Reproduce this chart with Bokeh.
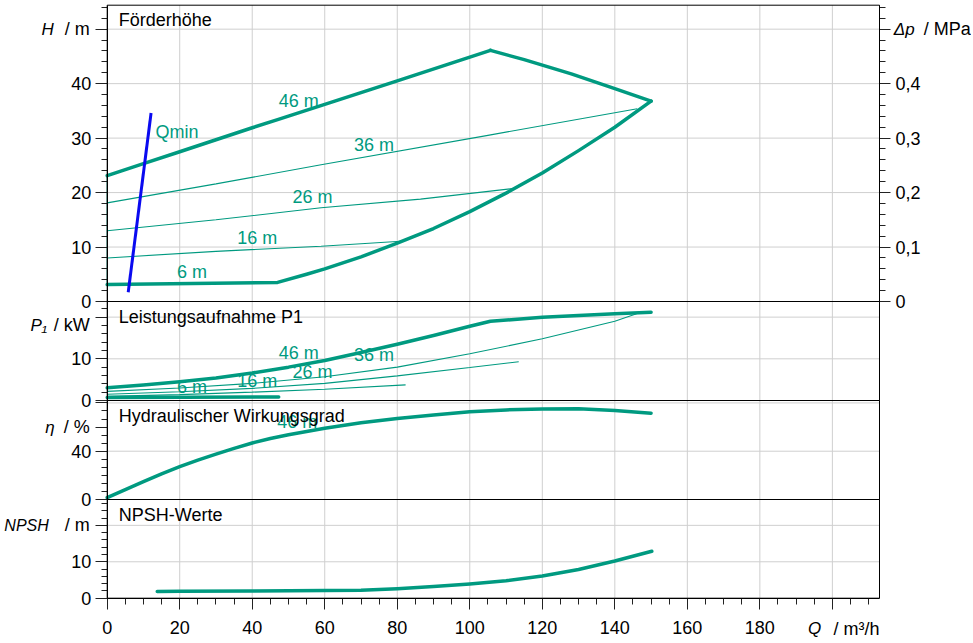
from bokeh.plotting import figure
from bokeh.models import Range1d, LinearAxis, FixedTicker, Label, BoxAnnotation, CustomJSTickFormatter
from bokeh.embed import file_html
from bokeh.resources import INLINE
from bokeh.core.properties import value

# ---------------- data ----------------
# Förderhöhe H / m
q_max_up = [0, 10, 20, 30, 40, 47, 60, 80, 105.7]
h_max_up = [23.1, 25.3, 27.5, 29.7, 31.9, 33.4, 36.2, 40.5, 46.1]
q_max_down = [105.7, 115, 128, 140, 150]
h_max_down = [46.1, 44.4, 41.8, 39.1, 36.8]
q_min_env = [0, 47, 55, 60, 70, 80, 90, 100, 110, 120, 130, 140, 150]
h_min_env = [3.1, 3.5, 5.0, 6.0, 8.2, 10.7, 13.4, 16.5, 19.9, 23.6, 27.7, 32.0, 36.8]
q_edge = [0, 0]
h_edge = [3.1, 23.1]
q_36 = [0, 30, 59, 105, 146.2]
h_36 = [18.1, 21.6, 25.1, 30.5, 35.4]
q_26 = [0, 30, 59, 86.4, 112.6]
h_26 = [13.0, 15.0, 17.2, 18.8, 20.8]
q_16 = [0, 30, 59, 81]
h_16 = [8.0, 9.2, 10.15, 11.06]
q_qmin = [5.8, 12.1]
h_qmin = [1.7, 34.6]

curve_labels = ["46 m", "36 m", "26 m", "16 m", "6 m"]
lab_q = [52.8, 73.6, 56.6, 41.4, 23.4]
lab_h = [36.9, 28.8, 19.1, 11.7, 5.4]
lab_p = [11.5, 10.9, 6.9, 4.6, 3.2]
qmin_text = ["Qmin"]
qmin_q = [13.3]
qmin_h = [31.2]

# Leistungsaufnahme P1 / kW
q_p46 = [0, 10, 20, 30, 40, 50, 60, 70, 80, 90, 100, 105.7, 120, 140, 150]
p_p46 = [3.05, 3.7, 4.5, 5.4, 6.6, 8.0, 9.6, 11.5, 13.5, 15.6, 17.8, 19.0, 20.0, 20.8, 21.2]
q_p36 = [0, 20, 40, 60, 80, 100, 120, 140, 146]
p_p36 = [2.2, 3.0, 4.1, 5.7, 8.0, 11.2, 14.8, 19.0, 20.8]
q_p26 = [0, 20, 40, 60, 80, 100, 113.5]
p_p26 = [1.5, 2.1, 2.9, 4.1, 5.9, 7.9, 9.3]
q_p16 = [0, 20, 40, 60, 82.3]
p_p16 = [1.0, 1.4, 2.0, 2.7, 3.75]
q_p6 = [0, 47.3]
p_p6 = [0.7, 0.85]

# Hydraulischer Wirkungsgrad eta / %
q_eta = [0, 5, 10, 15, 20, 25, 30, 35, 40, 45, 50, 60, 70, 80, 90, 100, 110, 120, 130, 140, 150]
eta = [1.5, 8.2, 14.8, 21.2, 27.2, 32.6, 37.6, 42.4, 46.8, 50.5, 53.6, 59.0, 63.5, 67.0, 70.0,
       72.6, 74.2, 75.0, 75.1, 73.8, 71.5]
eta_lab_text = ["46 m"]
eta_lab_q = [52.4]
eta_lab_v = [64.5]

# NPSH / m
q_npsh = [13.8, 20, 40, 60, 70, 80, 90, 100, 110, 120, 130, 140, 150.2]
npsh = [1.85, 1.9, 2.0, 2.1, 2.2, 2.6, 3.2, 3.9, 4.8, 6.1, 7.9, 10.2, 12.9]

# ticks
x_ticks = [0, 20, 40, 60, 80, 100, 120, 140, 160, 180, 200]
x_tick_labels = ["0", "20", "40", "60", "80", "100", "120", "140", "160", "180", ""]
h_ticks = [0, 10, 20, 30, 40, 50]
h_tick_labels = ["0", "10", "20", "30", "40", ""]
p_ticks = [0, 10, 20]
p_tick_labels = ["0", "10", ""]
eta_ticks = [0, 40, 60, 80]
eta_tick_labels = ["0", "40", "", ""]
npsh_ticks = [0, 10, 20]
npsh_tick_labels = ["0", "10", ""]
dp_ticks = [0, 0.1, 0.2, 0.3, 0.4, 0.5]

# ---------------- layout / style ----------------
TEAL = "#009a80"
BLUE = "#0a0af0"
GRID = "#cfcfcf"
FONT = "Liberation Sans"
FS = "18px"

CW, CH = 971, 640            # canvas
FRAME_LEFT = 106.7           # px of Q = 0
FRAME_TOP = 4.7
PLOT_BOTTOM = 597.7          # px of lowest panel bottom
X_END = 213
X_PX = 772.3 / X_END
FH = PLOT_BOTTOM - FRAME_TOP

# panel: (bottom px above plot bottom, height px, top value)
PANELS = {"npsh": (0.0, 98.7, 27.1), "eta": (98.7, 99.0, 82.0),
          "P": (197.7, 99.0, 23.75), "H": (296.7, FH - 296.7, 54.4)}
Y_LO, Y_HI = -(CH - PLOT_BOTTOM), PLOT_BOTTOM


def px(name, v):
    b, h, top = PANELS[name]
    return b + v * h / top


def prange(name, scale=1.0):
    b, h, top = PANELS[name]
    return Range1d((Y_LO - b) * top / h * scale, (Y_HI - b) * top / h * scale)


p = figure(width=CW, height=CH,
           x_range=Range1d(-FRAME_LEFT / X_PX, (CW - FRAME_LEFT) / X_PX),
           y_range=Range1d(Y_LO, Y_HI),
           x_axis_location=None, y_axis_location=None,
           output_backend="svg", toolbar_location=None,
           min_border_left=0, min_border_right=0, min_border_top=0, min_border_bottom=0)
p.center = []
p.extra_y_ranges = {"H": prange("H"), "P": prange("P"), "eta": prange("eta"),
                    "npsh": prange("npsh"), "dp": prange("H", 0.01)}
p.outline_line_color = None
p.background_fill_color = "white"
p.border_fill_color = "white"

# grid lines (at the tick positions, bounded to the plot area)
vx = x_ticks[1:]
p.segment(x0=vx, y0=[0] * len(vx), x1=vx, y1=[FH] * len(vx), line_color=GRID, line_width=1)
grid_y = ([px("H", v) for v in [10, 20, 30, 40, 50]] + [px("P", v) for v in [10, 20]] +
          [px("eta", v) for v in [40, 80]] + [px("npsh", v) for v in [10, 20]])
p.segment(x0=[0] * len(grid_y), y0=grid_y, x1=[X_END] * len(grid_y), y1=grid_y,
          line_color=GRID, line_width=1)

# panel frames
for name in ["H", "P", "eta", "npsh"]:
    b, h, top = PANELS[name]
    p.add_layout(BoxAnnotation(left=0, right=X_END, bottom=b, top=b + h, fill_alpha=0,
                               line_color="black", line_width=1, line_alpha=1))

# left axis
left_major = ([px("H", v) for v in h_ticks] + [px("P", v) for v in p_ticks] +
              [px("eta", v) for v in eta_ticks] + [px("npsh", v) for v in npsh_ticks])
left_labels = h_tick_labels + p_tick_labels + eta_tick_labels + npsh_tick_labels
left_minor = ([px("H", v) for v in range(0, 55, 2)] + [px("P", v) for v in range(0, 23, 2)] +
              [px("eta", k * 20 / 3) for k in range(0, 13)] + [px("npsh", v) for v in range(0, 27, 2)])
ya = LinearAxis(fixed_location=0, bounds=(0, FH),
                ticker=FixedTicker(ticks=left_major, minor_ticks=left_minor),
                formatter=CustomJSTickFormatter(args=dict(t=left_major, l=left_labels), code="""
let best = 0, bd = Infinity;
for (let i = 0; i < t.length; i++) { const d = Math.abs(t[i] - tick); if (d < bd) { bd = d; best = i; } }
return l[best];
"""))
p.add_layout(ya, "left")

# bottom axis
xa = LinearAxis(fixed_location=0, bounds=(0, X_END),
                ticker=FixedTicker(ticks=x_ticks, minor_ticks=list(range(0, 211, 5))))
xa.major_label_overrides = {t: s for t, s in zip(x_ticks, x_tick_labels)}
p.add_layout(xa, "below")

# right axis (pressure)
ra = LinearAxis(y_range_name="dp", fixed_location=X_END, bounds=(0, 0.544),
                ticker=FixedTicker(ticks=dp_ticks, minor_ticks=[i * 0.02 for i in range(28)]),
                formatter=CustomJSTickFormatter(code="""
if (Math.abs(tick - 0.5) < 1e-6) return "";
if (Math.abs(tick) < 1e-9) return "0";
return tick.toFixed(1).replace(".", ",");
"""))
p.add_layout(ra, "right")

for ax in [ya, xa, ra]:
    ax.axis_line_color = "black"
    ax.major_tick_line_color = "#222222"
    ax.minor_tick_line_color = "#222222"
    ax.major_tick_in = 0
    ax.minor_tick_in = 0
    ax.major_tick_out = 12
    ax.minor_tick_out = 6
    ax.major_label_text_font = FONT
    ax.major_label_text_font_size = FS
    ax.major_label_text_color = "black"
ya.major_label_standoff = 4
xa.major_label_standoff = 12
xa.major_tick_out = 11
ra.major_tick_out = 11
ra.major_label_standoff = 5

# ---------------- curves ----------------
thick = dict(line_color=TEAL, line_width=3.5, line_join="round", line_cap="round")
thin = dict(line_color=TEAL, line_width=1.1)
p.line(q_max_up, h_max_up, y_range_name="H", **thick)
p.line(q_max_down, h_max_down, y_range_name="H", **thick)
p.line(q_min_env, h_min_env, y_range_name="H", **thick)
p.line(q_edge, h_edge, y_range_name="H", **thin)
p.line(q_36, h_36, y_range_name="H", **thin)
p.line(q_26, h_26, y_range_name="H", **thin)
p.line(q_16, h_16, y_range_name="H", **thin)
p.line(q_qmin, h_qmin, y_range_name="H", line_color=BLUE, line_width=3)

p.line(q_p46, p_p46, y_range_name="P", **thick)
p.line(q_p36, p_p36, y_range_name="P", **thin)
p.line(q_p26, p_p26, y_range_name="P", **thin)
p.line(q_p16, p_p16, y_range_name="P", **thin)
p.line(q_p6, p_p6, y_range_name="P", **thick)

p.line(q_eta, eta, y_range_name="eta", **thick)
p.line(q_npsh, npsh, y_range_name="npsh", **thick)

txt = dict(text_color=TEAL, text_font=value(FONT), text_font_size=FS,
           text_align="center", text_baseline="middle")
p.text(x=lab_q, y=lab_h, text=curve_labels, y_range_name="H", **txt)
p.text(x=lab_q, y=lab_p, text=curve_labels, y_range_name="P", **txt)
p.text(x=eta_lab_q, y=eta_lab_v, text=eta_lab_text, y_range_name="eta", **txt)
p.text(x=qmin_q, y=qmin_h, text=qmin_text, y_range_name="H",
       text_color=TEAL, text_font=value(FONT), text_font_size=FS, text_align="left", text_baseline="middle")


# ---------------- panel titles & axis titles ----------------
def lab(text, x, y, xoff, align="left", italic=False, size=FS, color="black"):
    p.add_layout(Label(x=x, y=y, x_offset=xoff, text=text, text_align=align, text_baseline="middle",
                       text_font=FONT, text_font_size=size, text_color=color,
                       text_font_style="italic" if italic else "normal"))


lab("Förderhöhe", 0, FH - 14.5, 11.6)
lab("Leistungsaufnahme P1", 0, px("P", 23.75) - 15, 11.6)
lab("Hydraulischer Wirkungsgrad", 0, px("eta", 82.0) - 15, 11.6)
lab("NPSH-Werte", 0, px("npsh", 27.1) - 15, 11.6)

lab("H", 0, px("H", 50), -53.4, "right", True, "17px")
lab("/ m", 0, px("H", 50), -17.4, "right")
lab("P\u2081", 0, px("P", 18), -60, "right", True, "17px")
lab("/ kW", 0, px("P", 18), -17.4, "right")
lab("\u03b7", 0, px("eta", 60), -52.4, "right", True, "17px")
lab("/ %", 0, px("eta", 60), -17.4, "right")
lab("NPSH", 0, px("npsh", 20), -58.4, "right", True, "16px")
lab("/ m", 0, px("npsh", 20), -17.4, "right")

lab("\u0394p", X_END, px("H", 50), 14.3, "left", True, "17px")
lab("/ MPa", X_END, px("H", 50), 44.3, "left")

lab("Q", X_END, -30.6, -58.3, "right", True, "17px")
lab("/ m\u00b3/h", X_END, -30.6, 0, "right")

open("out.html", "w").write(file_html(p, INLINE))
